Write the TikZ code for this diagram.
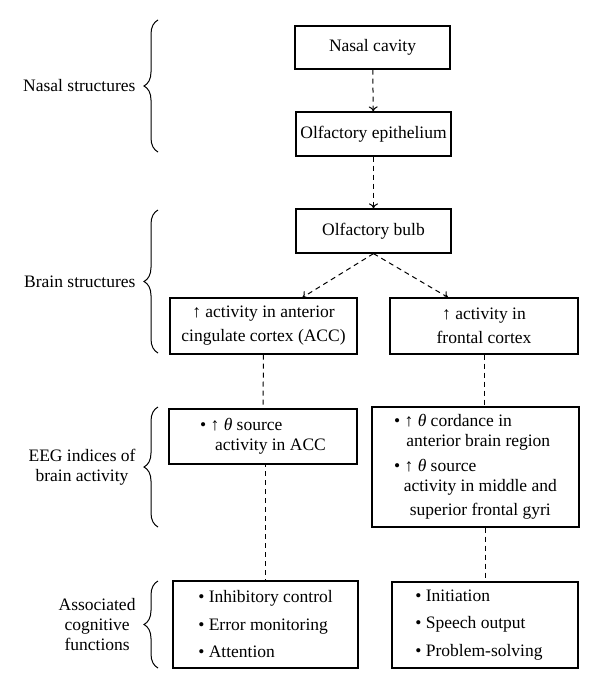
\documentclass[tikz,border=0pt]{standalone}
\usepackage{fontspec}
\setmainfont{Liberation Serif}
\usetikzlibrary{arrows.meta, decorations.pathreplacing}

\begin{document}
\begin{tikzpicture}[x=1pt, y=-1pt, font=\fontsize{17.5}{20}\selectfont]

\tikzset{box/.style = {shape=rectangle, draw, line width=1.2pt, inner sep=0pt, align=center}}
\tikzset{edge/.style = {-{To[length=5pt,width=9pt]}, line width=1pt, dash pattern=on 5pt off 4pt}}
\tikzset{link/.style = {line width=1pt, dash pattern=on 5pt off 4pt}}
\tikzset{brace/.style = {decorate, decoration={brace, amplitude=14pt}, line width=1pt}}
\tikzset{group/.style = {left=22pt, inner sep=0pt, align=center}}

\useasboundingbox (0,0) rectangle (600,691);

%boxes
\node[box, minimum width=155pt, minimum height=43pt] (cavity) at (372.5,47.5) {Nasal cavity};
\node[box, minimum width=155pt, minimum height=44pt] (epith) at (373.5,134) {Olfactory epithelium};
\node[box, minimum width=155pt, minimum height=44pt] (bulb) at (373.5,231) {Olfactory bulb};
\node[box, minimum width=187pt, minimum height=56pt] (accbrain) at (263.5,326) {↑ activity in anterior\\[4pt]cingulate cortex (ACC)};
\node[box, minimum width=188pt, minimum height=56pt] (frontbrain) at (484,326) {↑ activity in\\[4pt]frontal cortex};
\node[box, minimum width=188pt, minimum height=55pt, align=left] (acceeg) at (263,436.5)
  {\textbullet\ ↑ \textit{θ} source\\\hspace*{0.85em}activity in ACC};
\node[box, minimum width=207pt, minimum height=120pt, align=left] (fronteeg) at (475.5,467)
  {\textbullet\ ↑ \textit{θ} cordance in\\\hspace*{0.7em}anterior brain region\\[5pt]
   \textbullet\ ↑ \textit{θ} source\\\hspace*{0.55em}activity in middle and\\[4pt]\hspace*{0.9em}superior frontal gyri};
\node[box, minimum width=185pt, minimum height=87pt, align=left] (acccog) at (265.5,624.5)
  {\textbullet\ Inhibitory control\\[7.5pt]\textbullet\ Error monitoring\\[7.5pt]\textbullet\ Attention\hspace*{0pt}};
\node[box, minimum width=186pt, minimum height=86pt, align=left] (frontcog) at (485,625)
  {\textbullet\ Initiation\\[7.5pt]\textbullet\ Speech output\\[7.5pt]\textbullet\ Problem-solving\hspace*{12pt}};

%edges
\draw[edge] (cavity) -- (epith);
\draw[edge] (epith) -- (bulb);
\draw[edge] (bulb.south) -- ([xshift=39pt]accbrain.north);
\draw[edge] (bulb.south) -- ([xshift=-36pt]frontbrain.north);
\draw[link] (accbrain) -- (acceeg);
\draw[link] (acceeg.south) -- (acceeg.south -| acccog.north) -- (acccog.north);
\draw[link] (frontbrain.south) -- (frontbrain.south |- fronteeg.north);
\draw[link] (frontcog.north |- fronteeg.south) -- (frontcog.north);

%braces
\draw[brace] (158,152) -- (158,20) node[group, midway] (nasal) {Nasal structures};
\draw[brace] (158,353) -- (158,210) node[group, midway] (brain) {Brain structures};
\draw[brace] (158,527) -- (158,407) node[group, midway] (eeg) {EEG indices of\\brain activity};
\draw[brace] (158,668) -- (158,581) node[group, midway] (cognitive) {Associated\\cognitive\\functions};

\end{tikzpicture}
\end{document}
